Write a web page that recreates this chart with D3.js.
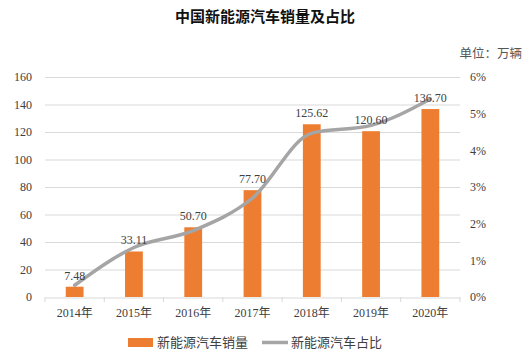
<!DOCTYPE html>
<html><head><meta charset="utf-8">
<script src="https://cdn.jsdelivr.net/npm/d3@7"></script>
<style>body{margin:0;background:#fff}</style>
</head><body>
<svg id="c" width="531" height="355"></svg>
<script>
const years = ["2014年","2015年","2016年","2017年","2018年","2019年","2020年"];
const sales = [7.48, 33.11, 50.70, 77.70, 125.62, 120.60, 136.70];
const salesLabels = ["7.48","33.11","50.70","77.70","125.62","120.60","136.70"];
const share = [0.0032, 0.0135, 0.0181, 0.027, 0.0447, 0.0468, 0.054];
const leftTicks = [0,20,40,60,80,100,120,140,160];
const rightTicks = [0,0.01,0.02,0.03,0.04,0.05,0.06];

const svg = d3.select("#c");
const serif = "'Liberation Serif','Times New Roman','Noto Sans CJK SC',serif";
const sans = "'Noto Sans CJK SC','Noto Sans',sans-serif";
const L=45, R=460, T=77, B=297;
const x = d3.scaleBand().domain(years).range([L,R]).paddingInner(0.7).paddingOuter(0.35);
const xb = d3.scaleBand().domain(years).range([L,R]);
const y = d3.scaleLinear().domain([0,160]).range([B,T]);
const y2 = d3.scaleLinear().domain([0,0.06]).range([B,T]);

svg.append("text").attr("x",265).attr("y",22).attr("text-anchor","middle")
  .attr("font-family","'Noto Sans CJK SC',sans-serif").attr("font-weight","bold").attr("font-size",15)
  .attr("fill","#111").text("中国新能源汽车销量及占比");
svg.append("text").attr("x",522).attr("y",58).attr("text-anchor","end")
  .attr("font-family","'Noto Sans CJK SC',serif").attr("font-size",12.5).attr("fill","#555").text("单位：万辆");

// gridlines
svg.append("g").selectAll("line").data(leftTicks.slice(1)).join("line")
  .attr("x1",L).attr("x2",R).attr("y1",d=>y(d)+0.5).attr("y2",d=>y(d)+0.5)
  .attr("stroke","#d9d9d9").attr("stroke-width",1);

// left axis labels
const ga = svg.append("g").attr("transform",`translate(${L},0)`)
  .call(d3.axisLeft(y).tickValues(leftTicks).tickSize(0).tickPadding(13));
ga.select(".domain").remove();
ga.selectAll("text").attr("font-family",serif).attr("font-size",12).attr("fill","#404040");

const gr = svg.append("g").attr("transform",`translate(${R},0)`)
  .call(d3.axisRight(y2).tickValues(rightTicks).tickFormat(d3.format(".0%")).tickSize(0).tickPadding(10));
gr.select(".domain").remove();
gr.selectAll("text").attr("font-family",serif).attr("font-size",12).attr("fill","#404040");

// x axis
const gx = svg.append("g").attr("transform",`translate(0,${B+0.5})`)
  .call(d3.axisBottom(xb).tickSize(0).tickPadding(11));
gx.select(".domain").attr("stroke","#d9d9d9");
gx.selectAll("text").attr("font-family",serif).attr("font-size",12).attr("fill","#404040");
svg.append("g").selectAll("line").data(years.concat(["end"])).join("line")
  .attr("x1",(d,i)=>L+i*xb.bandwidth()).attr("x2",(d,i)=>L+i*xb.bandwidth())
  .attr("y1",B).attr("y2",B+5).attr("stroke","#d9d9d9");

// bars
svg.append("g").selectAll("rect").data(sales).join("rect")
  .attr("x",(d,i)=>x(years[i])).attr("width",x.bandwidth())
  .attr("y",d=>y(d)).attr("height",d=>B-y(d)).attr("fill","#ed7d31");

// line
const line = d3.line().x((d,i)=>xb(years[i])+xb.bandwidth()/2).y(d=>y2(d)).curve(d3.curveMonotoneX);
svg.append("path").datum(share).attr("d",line).attr("fill","none")
  .attr("stroke","#a5a5a5").attr("stroke-width",3.5).attr("stroke-linejoin","round").attr("stroke-linecap","round");

// data labels
svg.append("g").selectAll("text").data(sales).join("text")
  .attr("x",(d,i)=>xb(years[i])+xb.bandwidth()/2).attr("y",d=>y(d)-7)
  .attr("text-anchor","middle").attr("font-family",serif).attr("font-size",12).attr("fill","#404040")
  .text((d,i)=>salesLabels[i]);

// legend
const lg = svg.append("g").attr("font-family",sans).attr("font-size",13).attr("fill","#404040");
lg.append("rect").attr("x",128).attr("y",338).attr("width",25).attr("height",9).attr("fill","#ed7d31");
lg.append("text").attr("x",157).attr("y",347).text("新能源汽车销量");
lg.append("line").attr("x1",262).attr("x2",288).attr("y1",342.5).attr("y2",342.5).attr("stroke","#a5a5a5").attr("stroke-width",3.5);
lg.append("text").attr("x",291).attr("y",347).text("新能源汽车占比");
</script>
</body></html>
